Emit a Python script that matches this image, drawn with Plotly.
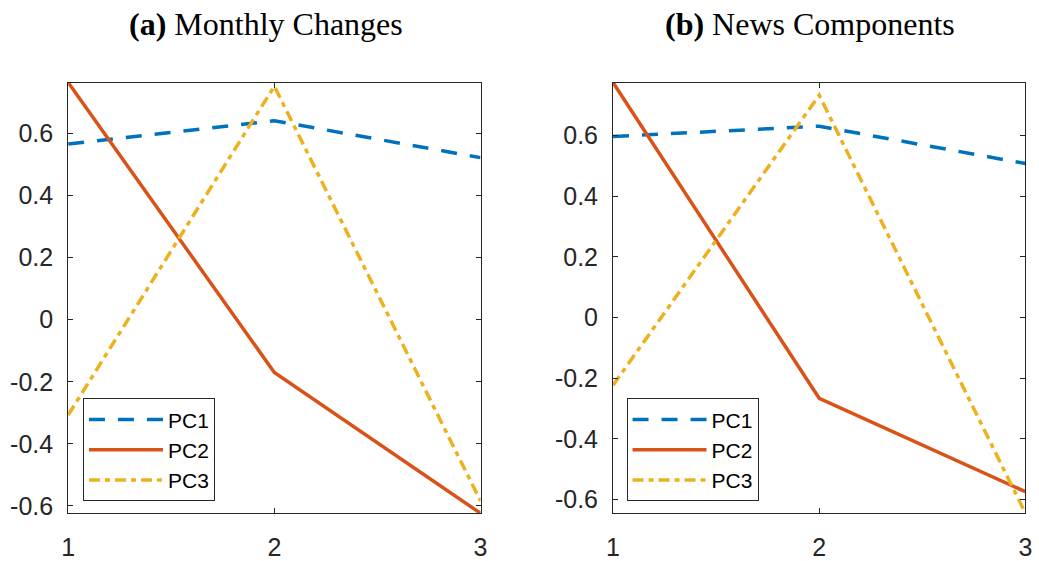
import plotly.graph_objects as go

x_vals = [1, 2, 3]
series_names = ["PC1", "PC2", "PC3"]

# (a) Monthly Changes
monthly_pc1 = [0.566, 0.641, 0.522]
monthly_pc2 = [0.764, -0.170, -0.6235]
monthly_pc3 = [-0.307, 0.752, -0.584]

# (b) News Components
news_pc1 = [0.597, 0.631, 0.508]
news_pc2 = [0.775, -0.266, -0.574]
news_pc3 = [-0.223, 0.733, -0.645]

y_ticks = [-0.6, -0.4, -0.2, 0, 0.2, 0.4, 0.6]
y_tick_text = ["-0.6", "-0.4", "-0.2", "0", "0.2", "0.4", "0.6"]
x_ticks = [1, 2, 3]

colors = ["#0072BD", "#D95319", "#EDB120"]
dashes = ["16px,13px", "solid", "11px,5px,5px,5px"]

W, H = 1039, 561
fig = go.Figure()

panels = [
    ([monthly_pc1, monthly_pc2, monthly_pc3], "x", "y", "legend"),
    ([news_pc1, news_pc2, news_pc3], "x2", "y2", "legend2"),
]
for data, xa, ya, lg in panels:
    for name, vals, c, d in zip(series_names, data, colors, dashes):
        fig.add_trace(go.Scatter(
            x=x_vals, y=vals, mode="lines", name=name,
            line=dict(color=c, width=3.5, dash=d),
            xaxis=xa, yaxis=ya, legend=lg, showlegend=True,
        ))

axis_common = dict(
    showgrid=False, zeroline=False, showline=True, linecolor="#262626",
    linewidth=1, mirror="ticks", ticks="inside", ticklen=5, tickwidth=1,
    tickcolor="#262626",
    tickfont=dict(family="Liberation Sans, Arial, sans-serif", size=25, color="#262626"),
)

leg_font = dict(family="Liberation Sans, Arial, sans-serif", size=21, color="black")
ydom = [1 - 520.7 / H, 1 - 83.7 / H]
fig.update_layout(
    width=W, height=H,
    margin=dict(l=0, r=0, t=0, b=0),
    paper_bgcolor="white", plot_bgcolor="white",
    xaxis=dict(domain=[62 / W, 480 / W], range=[1, 3], tickvals=x_ticks,
               ticklabelstandoff=12, anchor="y", **axis_common),
    yaxis=dict(domain=ydom, range=[min(monthly_pc2), max(monthly_pc2)],
               tickvals=y_ticks, ticktext=y_tick_text, ticklabelstandoff=9,
               anchor="x", **axis_common),
    xaxis2=dict(domain=[614.3 / W, 1032.3 / W], range=[1, 3], tickvals=x_ticks,
                ticklabelstandoff=12, anchor="y2", **axis_common),
    yaxis2=dict(domain=ydom, range=[min(news_pc3), max(news_pc2)],
                tickvals=y_ticks, ticktext=y_tick_text, ticklabelstandoff=9,
                anchor="x2", **axis_common),
    legend=dict(x=77 / W, y=1 - 404 / H, xanchor="left", yanchor="top",
                bgcolor="white", bordercolor="#262626", borderwidth=1,
                font=leg_font, tracegroupgap=0, itemwidth=74),
    legend2=dict(x=628 / W, y=1 - 404 / H, xanchor="left", yanchor="top",
                 bgcolor="white", bordercolor="#262626", borderwidth=1,
                 font=leg_font, tracegroupgap=0, itemwidth=74),
    showlegend=True,
)

title_font = dict(family="Liberation Serif, Times New Roman, serif", size=32, color="black")
fig.add_annotation(text="<b>(a)</b> Monthly Changes", x=262.5 / W, y=1 - 24 / H,
                   xref="paper", yref="paper", xanchor="center", yanchor="middle",
                   showarrow=False, font=title_font)
fig.add_annotation(text="<b>(b)</b> News Components", x=814 / W, y=1 - 24 / H,
                   xref="paper", yref="paper", xanchor="center", yanchor="middle",
                   showarrow=False, font=title_font)

fig.write_html(
    "out.html",
    config={"displayModeBar": False},
    post_script="document.body.style.margin='0';document.body.style.overflow='hidden';",
)
